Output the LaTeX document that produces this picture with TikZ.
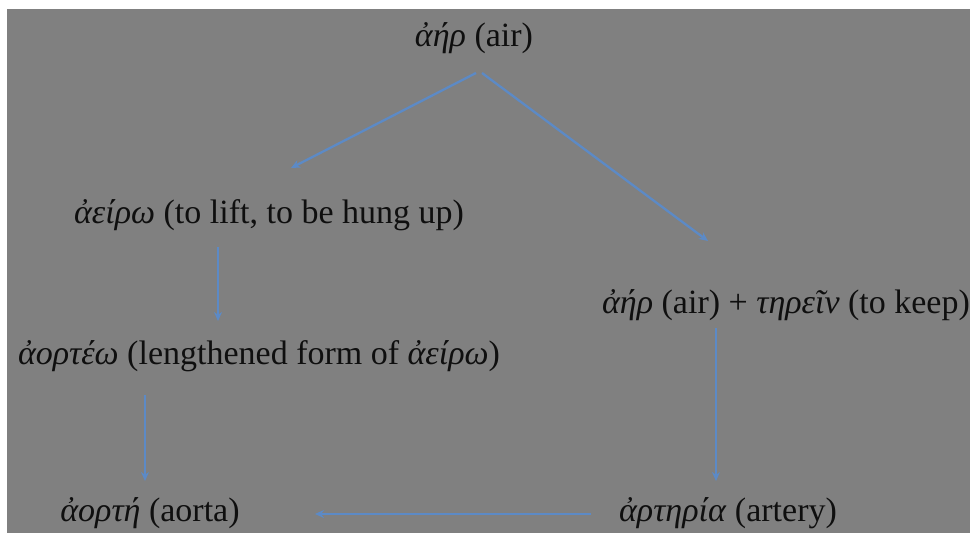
\documentclass[tikz,border=0pt]{standalone}
\usepackage{fontspec}
\setmainfont{Liberation Serif}
\usetikzlibrary{arrows.meta,calc}
\definecolor{bggray}{RGB}{128,128,128}
\definecolor{arrowblue}{RGB}{92,138,198}
\definecolor{inkc}{RGB}{15,15,15}
\begin{document}
\begin{tikzpicture}[x=1pt,y=-1pt,
  lbl/.style={inner sep=0pt, anchor=base, font=\fontsize{34}{40}\selectfont, text=inkc},
  arr/.style={draw=arrowblue, line width=2.3pt, -{Stealth[length=9pt,width=8pt]}}]
\fill[white] (0,0) rectangle (970,533);
\fill[bggray] (7,9) rectangle (970,533);
\useasboundingbox (0,0) rectangle (970,533);
\node[lbl] (air) at (474,46) {\textit{ἀήρ} (air)};
\node[lbl] (aeiro) at (269,223) {\textit{ἀείρω} (to lift, to be hung up)};
\node[lbl] (tirein) at (786,313) {\textit{ἀήρ} (air) + \textit{τηρεῖν} (to keep)};
\node[lbl] (aorteo) at (259,364) {\textit{ἀορτέω} (lengthened form of \textit{ἀείρω})};
\node[lbl] (aorte) at (150,521) {\textit{ἀορτή} (aorta)};
\node[lbl] (arteria) at (728,521) {\textit{ἀρτηρία} (artery)};
\draw[arr] ($(air.base)+(2,27)$) -- ($(aeiro.base)+(22,-55)$);
\draw[arr] ($(air.base)+(8,27)$) -- ($(tirein.base)+(-78,-72)$);
\draw[arr] ($(aeiro.base)+(-51,24)$) -- ($(aorteo.base)+(-41,-43)$);
\draw[arr] ($(aorteo.base)+(-114,31)$) -- ($(aorte.base)+(-5,-40)$);
\draw[arr] ($(tirein.base)+(-70,15)$) -- ($(arteria.base)+(-12,-40)$);
\draw[arr] ($(arteria.base)+(-137,-7)$) -- ($(aorte.base)+(165,-7)$);
\end{tikzpicture}
\end{document}
